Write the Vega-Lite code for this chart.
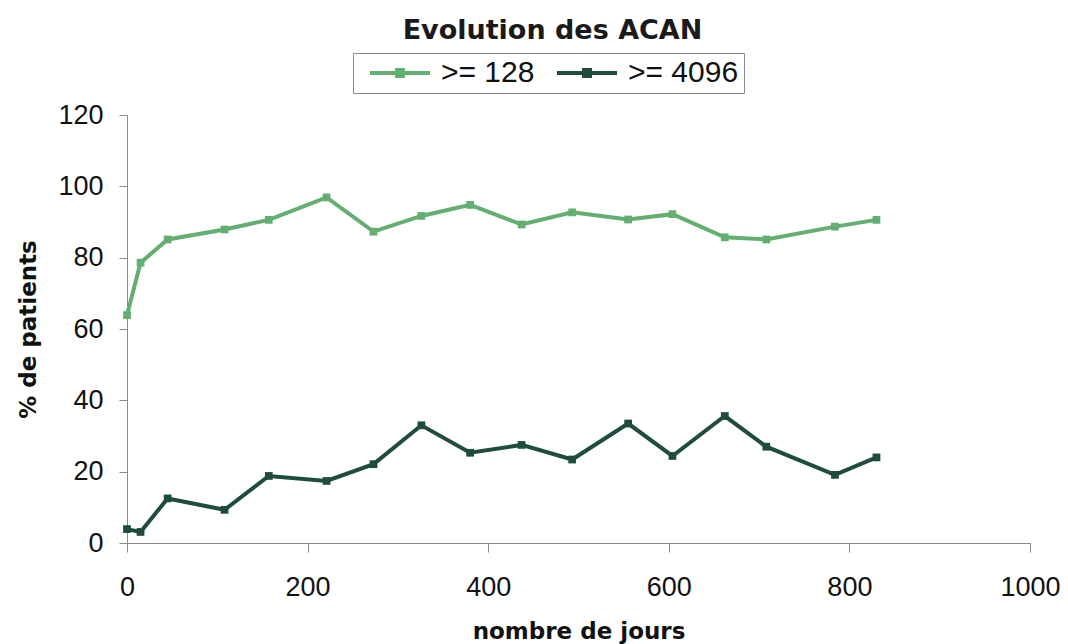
{
  "$schema": "https://vega.github.io/schema/vega-lite/v6.json",
  "autosize": "none",
  "width": 903,
  "height": 428,
  "padding": {"left": 127, "top": 115, "right": 38, "bottom": 101},
  "background": "white",
  "config": {"view": {"stroke": null}},
  "title": {
    "text": "Evolution des ACAN",
    "font": "DejaVu Sans",
    "fontWeight": "bold",
    "fontSize": 27,
    "color": "#1a1a1a",
    "frame": "group",
    "anchor": "middle",
    "dx": -26,
    "offset": 8
  },
  "data": {
    "values": [
      {"jours": 0, "pct": 63.9, "serie": ">= 128"},
      {"jours": 15, "pct": 78.6, "serie": ">= 128"},
      {"jours": 45, "pct": 85.1, "serie": ">= 128"},
      {"jours": 108, "pct": 87.9, "serie": ">= 128"},
      {"jours": 157, "pct": 90.6, "serie": ">= 128"},
      {"jours": 221, "pct": 96.9, "serie": ">= 128"},
      {"jours": 273, "pct": 87.3, "serie": ">= 128"},
      {"jours": 326, "pct": 91.7, "serie": ">= 128"},
      {"jours": 380, "pct": 94.8, "serie": ">= 128"},
      {"jours": 437, "pct": 89.3, "serie": ">= 128"},
      {"jours": 493, "pct": 92.7, "serie": ">= 128"},
      {"jours": 555, "pct": 90.7, "serie": ">= 128"},
      {"jours": 604, "pct": 92.2, "serie": ">= 128"},
      {"jours": 662, "pct": 85.7, "serie": ">= 128"},
      {"jours": 708, "pct": 85.1, "serie": ">= 128"},
      {"jours": 784, "pct": 88.7, "serie": ">= 128"},
      {"jours": 830, "pct": 90.6, "serie": ">= 128"},
      {"jours": 0, "pct": 3.9, "serie": ">= 4096"},
      {"jours": 15, "pct": 3.1, "serie": ">= 4096"},
      {"jours": 45, "pct": 12.5, "serie": ">= 4096"},
      {"jours": 108, "pct": 9.3, "serie": ">= 4096"},
      {"jours": 157, "pct": 18.8, "serie": ">= 4096"},
      {"jours": 221, "pct": 17.4, "serie": ">= 4096"},
      {"jours": 273, "pct": 22.1, "serie": ">= 4096"},
      {"jours": 326, "pct": 33.0, "serie": ">= 4096"},
      {"jours": 380, "pct": 25.3, "serie": ">= 4096"},
      {"jours": 437, "pct": 27.5, "serie": ">= 4096"},
      {"jours": 493, "pct": 23.4, "serie": ">= 4096"},
      {"jours": 555, "pct": 33.5, "serie": ">= 4096"},
      {"jours": 604, "pct": 24.4, "serie": ">= 4096"},
      {"jours": 662, "pct": 35.6, "serie": ">= 4096"},
      {"jours": 708, "pct": 27.0, "serie": ">= 4096"},
      {"jours": 784, "pct": 19.1, "serie": ">= 4096"},
      {"jours": 830, "pct": 24.0, "serie": ">= 4096"}
    ]
  },
  "encoding": {
    "x": {
      "field": "jours",
      "type": "quantitative",
      "scale": {"domain": [0, 1000], "nice": false, "zero": false},
      "axis": {
        "title": "nombre de jours",
        "values": [0, 200, 400, 600, 800, 1000],
        "format": "d",
        "labelFlush": false,
        "grid": false,
        "domainColor": "#8a8a8a",
        "tickColor": "#8a8a8a",
        "tickSize": 9,
        "labelPadding": 22,
        "labelFont": "Liberation Sans",
        "labelFontSize": 27,
        "labelColor": "#111111",
        "titleFont": "DejaVu Sans",
        "titleFontWeight": "bold",
        "titleFontSize": 23,
        "titleColor": "#111111",
        "titlePadding": 20
      }
    },
    "y": {
      "field": "pct",
      "type": "quantitative",
      "scale": {"domain": [0, 120], "nice": false},
      "axis": {
        "title": "% de patients",
        "values": [0, 20, 40, 60, 80, 100, 120],
        "grid": false,
        "domainColor": "#8a8a8a",
        "tickColor": "#8a8a8a",
        "tickSize": 8,
        "labelPadding": 16,
        "labelFont": "Liberation Sans",
        "labelFontSize": 27,
        "labelColor": "#111111",
        "titleFont": "DejaVu Sans",
        "titleFontWeight": "bold",
        "titleFontSize": 23,
        "titleColor": "#111111",
        "titlePadding": 17
      }
    },
    "color": {
      "field": "serie",
      "type": "nominal",
      "scale": {"domain": [">= 128", ">= 4096"], "range": ["#63ae71", "#1f4d3b"]},
      "legend": {
        "title": null,
        "orient": "none",
        "legendX": 226,
        "legendY": -62,
        "direction": "horizontal",
        "strokeColor": "#8a8a8a",
        "fillColor": "white",
        "padding": 5,
        "symbolType": "M-3,0H3M-0.3,-0.3H0.3V0.3H-0.3Z",
        "symbolSize": 400,
        "symbolOffset": 27,
        "symbolStrokeWidth": 4,
        "labelFont": "Liberation Sans",
        "labelFontSize": 30,
        "labelColor": "#111111",
        "labelOffset": 26,
        "columnPadding": 10
      }
    }
  },
  "layer": [
    {"mark": {"type": "line", "strokeWidth": 4}},
    {"mark": {"type": "point", "shape": "square", "filled": true, "size": 60, "opacity": 1}}
  ]
}
